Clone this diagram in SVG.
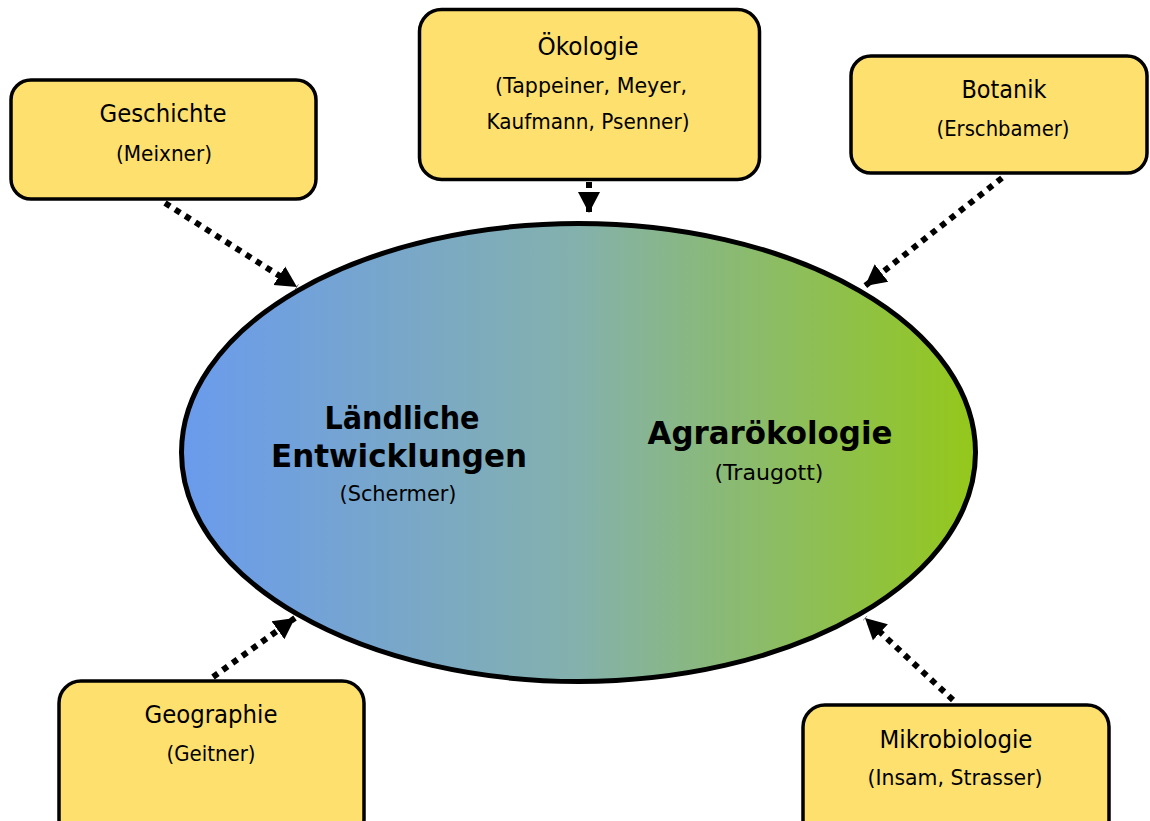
<svg xmlns="http://www.w3.org/2000/svg" width="1150" height="821" viewBox="0 0 1150 821">
<style>
.box{fill:#fee06f;stroke:#000;stroke-width:3.5}
.t{font-family:"DejaVu Sans",Verdana,sans-serif;font-size:25px;fill:#000;text-anchor:middle}
.s{font-family:"DejaVu Sans",Verdana,sans-serif;font-size:21.5px;fill:#000;text-anchor:middle}
.b{font-family:"DejaVu Sans",Verdana,sans-serif;font-size:32px;font-weight:bold;fill:#000;text-anchor:middle}
.c{fill:none;stroke:#000;stroke-width:6;stroke-dasharray:6 6;marker-end:url(#ah)}
</style>
<defs>
<linearGradient id="g" x1="0" y1="0" x2="1" y2="0">
<stop offset="0" stop-color="#6a9bed"/>
<stop offset="0.5" stop-color="#84b1ac"/>
<stop offset="1" stop-color="#94c81a"/>
</linearGradient>
<marker id="ah" markerUnits="userSpaceOnUse" markerWidth="24" markerHeight="24" refX="21" refY="12" orient="auto" viewBox="0 0 24 24">
<path d="M0,1 L21,12 L0,23 z" fill="#000"/>
</marker>
</defs>
<rect width="1150" height="821" fill="#fff"/>
<g id="center">
<ellipse cx="578.5" cy="452.5" rx="397" ry="229" fill="url(#g)" stroke="#000" stroke-width="5"/>
<text class="b" x="402" y="429" textLength="155" lengthAdjust="spacingAndGlyphs">Ländliche</text>
<text class="b" x="399" y="467" textLength="256" lengthAdjust="spacingAndGlyphs">Entwicklungen</text>
<text class="s" x="398" y="501" textLength="117" lengthAdjust="spacingAndGlyphs">(Schermer)</text>
<text class="b" x="770" y="444" textLength="245" lengthAdjust="spacingAndGlyphs">Agrarökologie</text>
<text class="s" x="769" y="480" textLength="109" lengthAdjust="spacingAndGlyphs">(Traugott)</text>
</g>
<g id="connectors">
<line class="c" x1="165" y1="203" x2="297" y2="287"/>
<line class="c" x1="589" y1="182" x2="589" y2="213"/>
<line class="c" x1="1002" y1="178" x2="865" y2="286"/>
<line class="c" x1="213" y1="677" x2="295" y2="618"/>
<line class="c" x1="953" y1="700" x2="865" y2="618"/>
</g>
<g id="geschichte">
<rect class="box" x="11" y="80" width="305" height="119" rx="20"/>
<text class="t" x="163" y="122" textLength="127" lengthAdjust="spacingAndGlyphs">Geschichte</text>
<text class="s" x="164" y="161" textLength="96" lengthAdjust="spacingAndGlyphs">(Meixner)</text>
</g>
<g id="oekologie">
<rect class="box" x="419.5" y="9.5" width="340" height="170" rx="22"/>
<text class="t" x="588" y="55" textLength="101" lengthAdjust="spacingAndGlyphs">Ökologie</text>
<text class="s" x="591" y="93" textLength="192" lengthAdjust="spacingAndGlyphs">(Tappeiner, Meyer,</text>
<text class="s" x="588" y="129" textLength="203" lengthAdjust="spacingAndGlyphs">Kaufmann, Psenner)</text>
</g>
<g id="botanik">
<rect class="box" x="851" y="56" width="296" height="117" rx="20"/>
<text class="t" x="1004" y="98" textLength="85" lengthAdjust="spacingAndGlyphs">Botanik</text>
<text class="s" x="1003" y="136" textLength="133" lengthAdjust="spacingAndGlyphs">(Erschbamer)</text>
</g>
<g id="geographie">
<rect class="box" x="59" y="681" width="305" height="160" rx="22"/>
<text class="t" x="211" y="723" textLength="133" lengthAdjust="spacingAndGlyphs">Geographie</text>
<text class="s" x="211" y="761" textLength="89" lengthAdjust="spacingAndGlyphs">(Geitner)</text>
</g>
<g id="mikrobiologie">
<rect class="box" x="803" y="705" width="306" height="140" rx="22"/>
<text class="t" x="956" y="748" textLength="153" lengthAdjust="spacingAndGlyphs">Mikrobiologie</text>
<text class="s" x="955" y="785" textLength="175" lengthAdjust="spacingAndGlyphs">(Insam, Strasser)</text>
</g>
</svg>
